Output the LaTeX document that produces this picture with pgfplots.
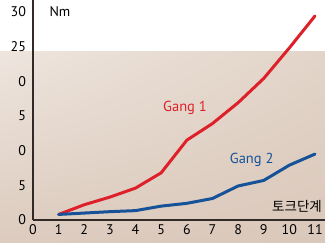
\documentclass[border=0pt]{standalone}
\usepackage{pgfplots}
\pgfplotsset{compat=1.18}
\usetikzlibrary{shadings}
\usepackage{fontspec}
\setmainfont{PT Sans}
\newfontfamily\kr{Noto Sans CJK KR}
\definecolor{gred}{RGB}{222,32,42}
\definecolor{gblue}{RGB}{22,82,152}
\definecolor{axc}{RGB}{50,42,38}
\definecolor{bgul}{RGB}{238,229,222}
\definecolor{bgur}{RGB}{226,212,200}
\definecolor{bgll}{RGB}{220,203,190}
\definecolor{bglr}{RGB}{218,200,186}
\begin{document}
\begin{tikzpicture}[x=1pt,y=1pt]
\path[use as bounding box] (0,0) rectangle (325,243);
\shade[upper left=bgul, upper right=bgur, lower left=bgll, lower right=bglr]
  (0,0) rectangle (325,191);
\begin{axis}[
  at={(33pt,23pt)}, anchor=south west,
  scale only axis, width=292pt, height=220pt,
  xmin=0, xmax=11.39, ymin=0, ymax=31.7,
  axis lines=left, axis line style={-, line width=1.4pt, axc},
  xtick={0,...,11}, ytick={0,5,10,15,20,25,30},
  yticklabels={0,5,0,5,0,25,30},
  major tick length=0pt,
  tick label style={font=\fontsize{14}{15}\selectfont, text=black},
  /pgf/number format/assume math mode=true,
  xticklabel style={yshift=-1.5pt},
  yticklabel style={xshift=-3.5pt},
  clip=false,
]
\addplot[gred, line width=3pt, line cap=round, line join=round] coordinates {
(1,0.8) (2,2.2) (3,3.3) (4,4.6) (5,6.8) (6,11.5) (7,13.9) (8,16.9) (9,20.4) (10,24.8) (11,29.4)};
\addplot[gblue, line width=3pt, line cap=round, line join=round] coordinates {
(1,0.8) (2,1.0) (3,1.2) (4,1.35) (5,2.0) (6,2.4) (7,3.1) (8,4.9) (9,5.7) (10,7.9) (11,9.5)};
\node[font=\fontsize{14}{15}\selectfont] at (axis cs:1.05,30) {Nm};
\node[font=\fontsize{14.5}{16}\selectfont, text=gred] at (axis cs:5.93,16.1) {Gang 1};
\node[font=\fontsize{14.5}{16}\selectfont, text=gblue] at (axis cs:8.53,8.6) {Gang 2};
\node[font=\kr\fontsize{13.5}{15}\selectfont] at (axis cs:10.3,1.9) {토크단계};
\end{axis}
\end{tikzpicture}
\end{document}
